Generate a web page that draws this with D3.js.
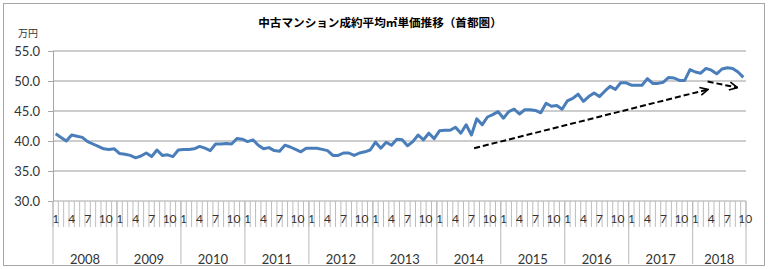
<!DOCTYPE html>
<html>
    <head>
        <meta charset="utf-8">
        <script src="https://d3js.org/d3.v7.min.js"></script>
        <style>
            body { margin: 0; background: #fff; }
            text { font-family: Lato, "Liberation Sans", sans-serif; fill: #333; }
        </style>
    </head>
    <body>
        <svg height='269' width='768'></svg>

        <script>
            // 中古マンション成約平均㎡単価 (万円) by month, 2008/1 - 2018/10
            const years = [2008, 2009, 2010, 2011, 2012, 2013, 2014, 2015, 2016, 2017, 2018];
            const v2008 = [41.2, 40.6, 40.0, 41.0, 40.8, 40.6, 39.9, 39.5, 39.1, 38.7, 38.6, 38.7];
            const v2009 = [37.9, 37.8, 37.6, 37.2, 37.5, 38.0, 37.4, 38.5, 37.6, 37.7, 37.4, 38.5];
            const v2010 = [38.6, 38.6, 38.7, 39.1, 38.8, 38.4, 39.5, 39.5, 39.6, 39.5, 40.4, 40.3];
            const v2011 = [39.9, 40.2, 39.3, 38.7, 38.9, 38.4, 38.3, 39.3, 39.0, 38.6, 38.2, 38.8];
            const v2012 = [38.8, 38.8, 38.6, 38.4, 37.6, 37.6, 38.0, 38.0, 37.6, 38.0, 38.2, 38.5];
            const v2013 = [39.8, 38.8, 39.8, 39.3, 40.3, 40.2, 39.2, 39.9, 41.0, 40.2, 41.3, 40.4];
            const v2014 = [41.7, 41.8, 41.8, 42.3, 41.3, 42.7, 41.0, 43.7, 42.7, 44.0, 44.4, 44.9];
            const v2015 = [43.8, 44.9, 45.3, 44.5, 45.2, 45.2, 45.1, 44.7, 46.3, 45.8, 45.9, 45.3];
            const v2016 = [46.7, 47.1, 47.8, 46.6, 47.4, 48.0, 47.4, 48.3, 49.1, 48.6, 49.7, 49.7];
            const v2017 = [49.3, 49.3, 49.3, 50.4, 49.6, 49.6, 49.8, 50.6, 50.5, 50.1, 50.1, 51.9];
            const v2018 = [51.5, 51.3, 52.1, 51.8, 51.2, 52.0, 52.2, 52.1, 51.5, 50.6];
            const monthLabels = [1, 4, 7, 10];
            const yTicks = [30, 35, 40, 45, 50, 55];
            // trend arrows: [start index, start value, end index, end value]
            const arrows = [[78.5, 38.8, 122.4, 48.6], [122.3, 49.9, 127.9, 48.9]];

            const yearValues = [v2008, v2009, v2010, v2011, v2012, v2013, v2014, v2015, v2016, v2017, v2018];
            const data = [];
            yearValues.forEach((vals, yi) => {
                vals.forEach((v, mi) => data.push({ year: years[yi], month: mi + 1, value: v }));
            });

            const svg = d3.select('svg');

            // outer frame
            svg.append('rect')
                .attr('x', 3.5).attr('y', 3.5)
                .attr('width', 761).attr('height', 262)
                .attr('fill', 'none').attr('stroke', '#a6a6a6');

            svg.append('text')
                .attr('x', 380).attr('y', 27)
                .attr('text-anchor', 'middle')
                .style('font-family', '"Noto Sans CJK JP", sans-serif')
                .style('font-weight', 'bold')
                .style('font-size', '11.6px')
                .style('fill', '#000')
                .text('中古マンション成約平均㎡単価推移（首都圏）');

            svg.append('text')
                .attr('x', 28).attr('y', 37)
                .attr('text-anchor', 'middle')
                .style('font-family', '"Noto Sans CJK JP", sans-serif')
                .style('font-size', '10px')
                .text('万円');

            const x = d3.scaleBand()
                .domain(d3.range(data.length))
                .range([53, 746]);
            const y = d3.scaleLinear()
                .domain([30, 55])
                .range([201, 51]);
            const xc = i => x.range()[0] + (i + 0.5) * x.step();

            // gridlines
            svg.append('g')
                .selectAll('line').data(yTicks.slice(1)).enter().append('line')
                .attr('x1', 53).attr('x2', 746)
                .attr('y1', d => y(d)).attr('y2', d => y(d))
                .attr('stroke', '#bcbcbc').attr('stroke-width', 1.5);

            const yAxis = svg.append('g')
                .attr('transform', 'translate(53,0)')
                .call(d3.axisLeft(y).tickValues(yTicks).tickFormat(d3.format('.1f')).tickSize(5).tickPadding(8));
            yAxis.select('.domain').attr('stroke', '#a6a6a6');
            yAxis.selectAll('.tick line').attr('stroke', '#a6a6a6');
            yAxis.selectAll('text').style('font-size', '13px').style('font-family', 'Lato, sans-serif').attr('fill', '#333');

            // bottom axis line
            svg.append('line')
                .attr('x1', 53).attr('x2', 746)
                .attr('y1', 201).attr('y2', 201)
                .attr('stroke', '#a6a6a6');

            // month ticks between each category
            svg.append('g')
                .selectAll('line').data(d3.range(data.length + 1)).enter().append('line')
                .attr('x1', i => x.range()[0] + i * x.step())
                .attr('x2', i => x.range()[0] + i * x.step())
                .attr('y1', 201).attr('y2', 227)
                .attr('stroke', '#bdbdbd').attr('stroke-width', 1);

            svg.append('g')
                .selectAll('text').data(data.map((d, i) => ({ ...d, i })).filter(d => monthLabels.includes(d.month)))
                .enter().append('text')
                .attr('x', d => xc(d.i) + (d.month === 10 ? 2 : 0))
                .attr('y', 223)
                .attr('text-anchor', 'middle')
                .style('font-size', '12px')
                .text(d => d.month);

            // year separators and labels
            const yearStart = years.map(yr => data.findIndex(d => d.year === yr));
            const seps = yearStart.concat([data.length]);
            svg.append('g')
                .selectAll('line').data(seps).enter().append('line')
                .attr('x1', i => x.range()[0] + i * x.step())
                .attr('x2', i => x.range()[0] + i * x.step())
                .attr('y1', 201).attr('y2', 264)
                .attr('stroke', '#b8b8b8');

            svg.append('g')
                .selectAll('text').data(years).enter().append('text')
                .attr('x', (yr, k) => (x.range()[0] + (seps[k] + seps[k + 1]) / 2 * x.step()))
                .attr('y', 264)
                .attr('text-anchor', 'middle')
                .style('font-size', '13px')
                .text(d => d);

            // series line
            const line = d3.line()
                .x((d, i) => xc(i))
                .y(d => y(d.value));
            svg.append('path')
                .datum(data)
                .attr('d', line)
                .attr('fill', 'none')
                .attr('stroke', '#4a7ebb')
                .attr('stroke-width', 3)
                .attr('stroke-linejoin', 'round');

            // dashed trend arrows
            svg.append('defs').append('marker')
                .attr('id', 'head')
                .attr('viewBox', '0 0 10 10')
                .attr('refX', 9).attr('refY', 5)
                .attr('markerWidth', 5).attr('markerHeight', 5)
                .attr('markerUnits', 'strokeWidth')
                .attr('orient', 'auto')
                .append('path')
                .attr('d', 'M1,1 L9,5 L1,9')
                .attr('fill', 'none').attr('stroke', '#000').attr('stroke-width', 1.6);

            svg.append('g')
                .selectAll('line').data(arrows).enter().append('line')
                .attr('x1', d => xc(d[0])).attr('y1', d => y(d[1]))
                .attr('x2', d => xc(d[2])).attr('y2', d => y(d[3]))
                .attr('stroke', '#000')
                .attr('stroke-width', 2)
                .attr('stroke-dasharray', '6,3')
                .attr('marker-end', 'url(#head)');
        </script>
    </body>
</html>
